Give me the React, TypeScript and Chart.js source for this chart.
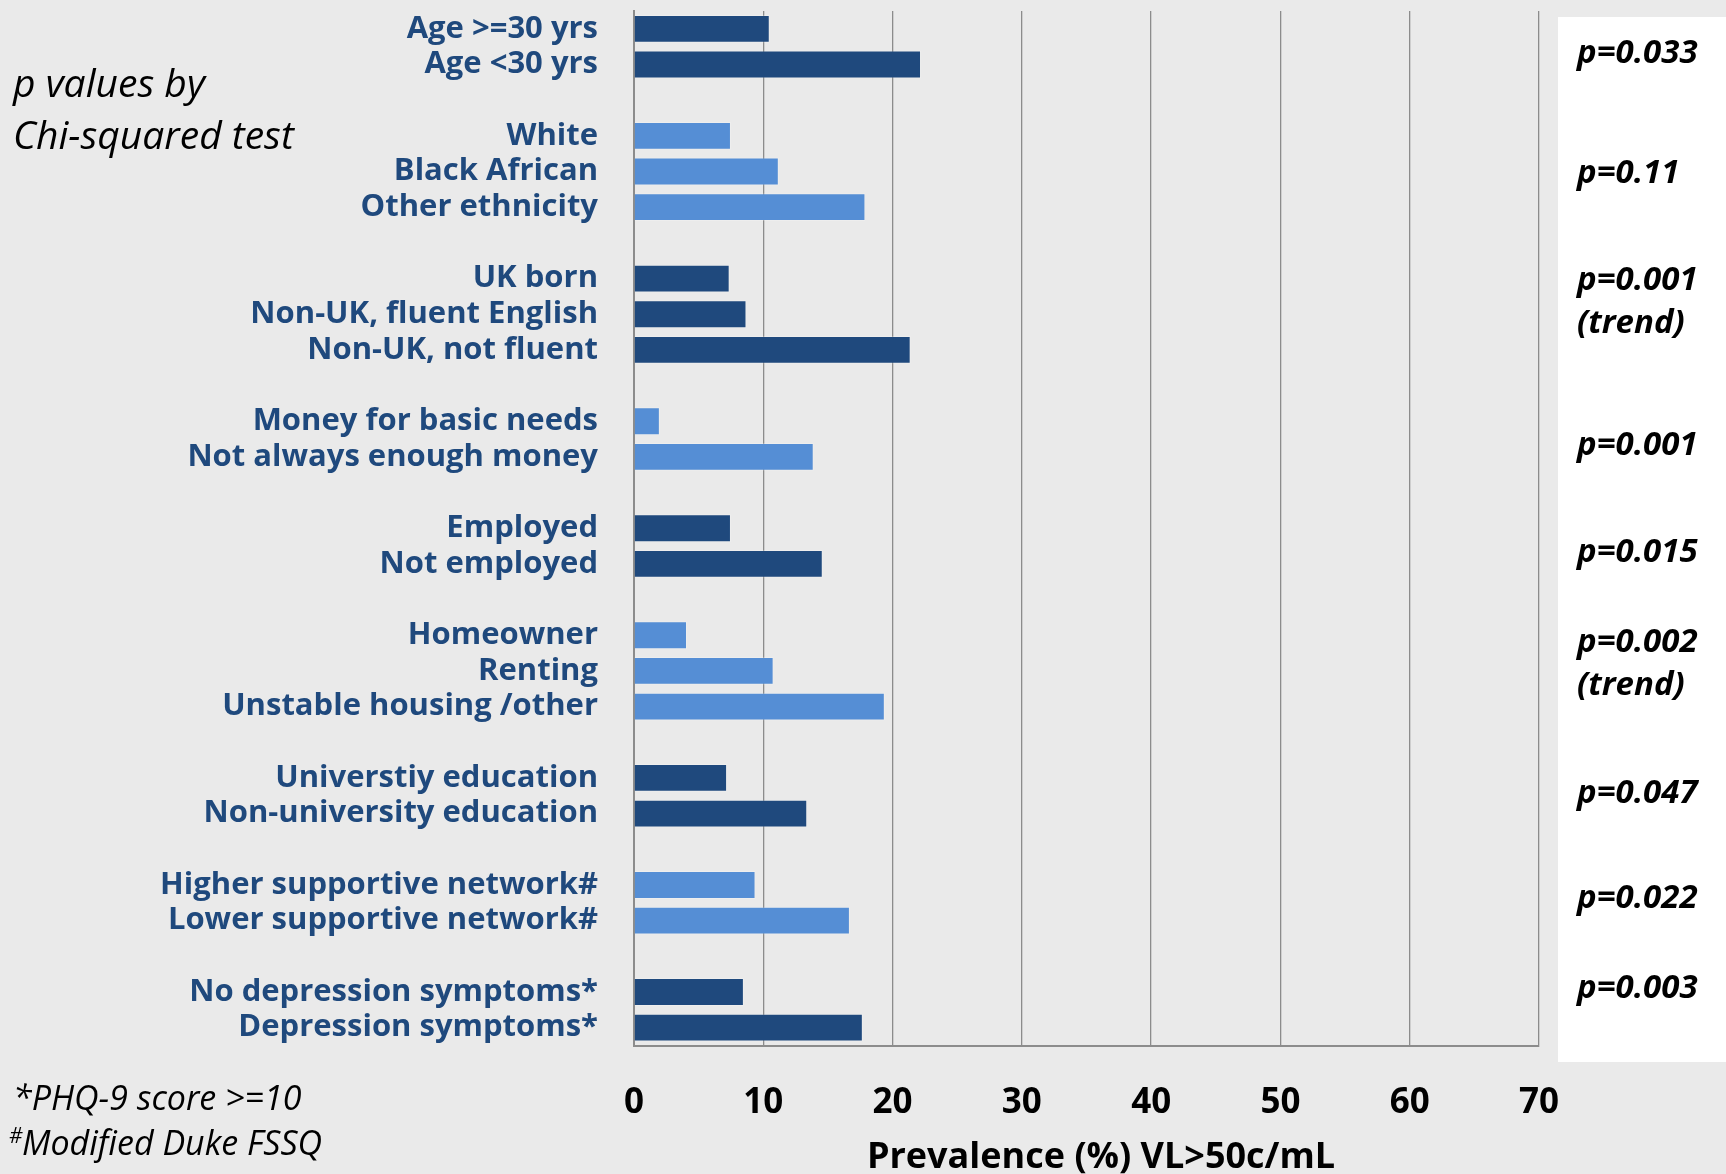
import React, { useEffect, useRef } from 'react';
import { Chart, registerables } from 'chart.js';

Chart.register(...registerables);

// ---------- data ----------
const groupLabels: string[][] = [
  ['Age >=30 yrs', 'Age <30 yrs'],
  ['White', 'Black African', 'Other ethnicity'],
  ['UK born', 'Non-UK, fluent English', 'Non-UK, not fluent'],
  ['Money for basic needs', 'Not always enough money'],
  ['Employed', 'Not employed'],
  ['Homeowner', 'Renting', 'Unstable housing /other'],
  ['Universtiy education', 'Non-university education'],
  ['Higher supportive network#', 'Lower supportive network#'],
  ['No depression symptoms*', 'Depression symptoms*'],
];

const groupValues: number[][] = [
  [10.5, 22.2],
  [7.5, 11.2, 17.9],
  [7.4, 8.7, 21.4],
  [2.0, 13.9],
  [7.5, 14.6],
  [4.1, 10.8, 19.4],
  [7.2, 13.4],
  [9.4, 16.7],
  [8.5, 17.7],
];

const groupShade: string[] = ['dark', 'light', 'dark', 'light', 'dark', 'light', 'dark', 'light', 'dark'];

const pValueLines: string[][] = [
  ['p=0.033'],
  ['p=0.11'],
  ['p=0.001', '(trend)'],
  ['p=0.001'],
  ['p=0.015'],
  ['p=0.002', '(trend)'],
  ['p=0.047'],
  ['p=0.022'],
  ['p=0.003'],
];

const xMin = 0;
const xMax = 70;
const xStep = 10;

const noteLines: string[] = ['p values by', 'Chi-squared test'];
const footnoteLines: string[] = ['*PHQ-9 score >=10', 'Modified Duke FSSQ'];
const footnoteMark = '#';
const xTitle = 'Prevalence (%) VL>50c/mL';

// ---------- layout / style ----------
const W = 1726;
const H = 1174;
const PLOT_LEFT = 634;
const PLOT_RIGHT = 1539;
const PLOT_TOP = 11;
const PLOT_BOTTOM = 1045.5;
const BG = '#EAEAEA';
const DARK = '#1F497D';
const LIGHT = '#558ED5';
const LABEL_BLUE = '#1F497D';
const GRID = '#8C8C8C';
const FONT = '"Open Sans"';

const PVAL_X = 1577;
const PVAL_BASELINES: number[][] = [[63], [183], [290, 333], [455], [562], [652, 695], [803], [908], [998]];
const NOTE_BASELINES = [97, 149];
const FOOT_BASELINES = [1110, 1155];

// build flattened category list with blank spacer rows between groups
const labels: string[] = [];
const values: (number | null)[] = [];
const colors: string[] = [];
groupLabels.forEach((g, gi) => {
  if (gi > 0) {
    labels.push('');
    values.push(null);
    colors.push('rgba(0,0,0,0)');
  }
  g.forEach((l, li) => {
    labels.push(l);
    values.push(groupValues[gi][li]);
    colors.push(groupShade[gi] === 'dark' ? DARK : LIGHT);
  });
});

const annotationPlugin = {
  id: 'annotations',
  beforeDraw(chart: any) {
    const ctx = chart.ctx;
    ctx.save();
    ctx.fillStyle = '#FFFFFF';
    ctx.fillRect(1558, 17, W - 1558, 1062 - 17);
    ctx.restore();
  },
  afterDraw(chart: any) {
    const ctx = chart.ctx;
    ctx.save();
    ctx.textBaseline = 'alphabetic';
    ctx.textAlign = 'left';
    ctx.fillStyle = '#000000';
    ctx.font = `italic bold 33px ${FONT}`;
    pValueLines.forEach((lines, i) => {
      lines.forEach((t, j) => ctx.fillText(t, PVAL_X, PVAL_BASELINES[i][j]));
    });
    ctx.font = `italic 39px ${FONT}`;
    noteLines.forEach((t, i) => ctx.fillText(t, 13, NOTE_BASELINES[i]));
    ctx.font = `italic 34px ${FONT}`;
    ctx.fillText(footnoteLines[0], 13, FOOT_BASELINES[0]);
    ctx.fillText(footnoteLines[1], 22, FOOT_BASELINES[1]);
    ctx.font = `italic 21px ${FONT}`;
    ctx.fillText(footnoteMark, 9, 1143);
    ctx.font = `bold 36px ${FONT}`;
    ctx.textAlign = 'center';
    ctx.fillText(xTitle, 1101, 1168);
    ctx.restore();
  },
};

export default function App() {
  const ref = useRef<HTMLCanvasElement | null>(null);

  useEffect(() => {
    document.body.style.margin = '0';
    document.body.style.overflow = 'hidden';
    const canvas = ref.current;
    if (!canvas) return;
    const chart = new Chart(canvas, {
      type: 'bar',
      data: {
        labels,
        datasets: [
          {
            data: values,
            backgroundColor: colors,
            borderColor: 'rgba(255,255,255,0.22)',
            borderWidth: 1,
            barPercentage: 0.78,
            categoryPercentage: 1,
          },
        ],
      },
      options: {
        indexAxis: 'y',
        responsive: false,
        animation: false,
        devicePixelRatio: 1,
        layout: { padding: { top: PLOT_TOP, right: W - PLOT_RIGHT, left: 0, bottom: 0 } },
        plugins: { legend: { display: false }, tooltip: { enabled: false } },
        scales: {
          x: {
            min: xMin,
            max: xMax,
            ticks: {
              stepSize: xStep,
              font: { family: FONT, weight: 'bold', size: 35 },
              color: '#000000',
              padding: 37,
            },
            grid: { color: GRID, lineWidth: 1.3, drawTicks: false },
            border: { color: GRID, width: 2 },
            afterFit: (s: any) => {
              s.height = H - PLOT_BOTTOM;
              s.paddingLeft = 0;
              s.paddingRight = 0;
            },
          },
          y: {
            ticks: {
              autoSkip: false,
              font: { family: FONT, weight: 'bold', size: 31 },
              color: LABEL_BLUE,
              padding: 36,
            },
            grid: { display: false, drawTicks: false },
            border: { display: true, color: GRID, width: 2 },
            afterFit: (s: any) => {
              s.width = PLOT_LEFT;
              s.paddingTop = 0;
              s.paddingBottom = 0;
            },
          },
        },
      } as any,
      plugins: [annotationPlugin],
    });
    return () => chart.destroy();
  }, []);

  return (
    <div style={{ width: W, height: H, background: BG, position: 'relative' }}>
      <canvas ref={ref} width={W} height={H} style={{ display: 'block' }} />
    </div>
  );
}
